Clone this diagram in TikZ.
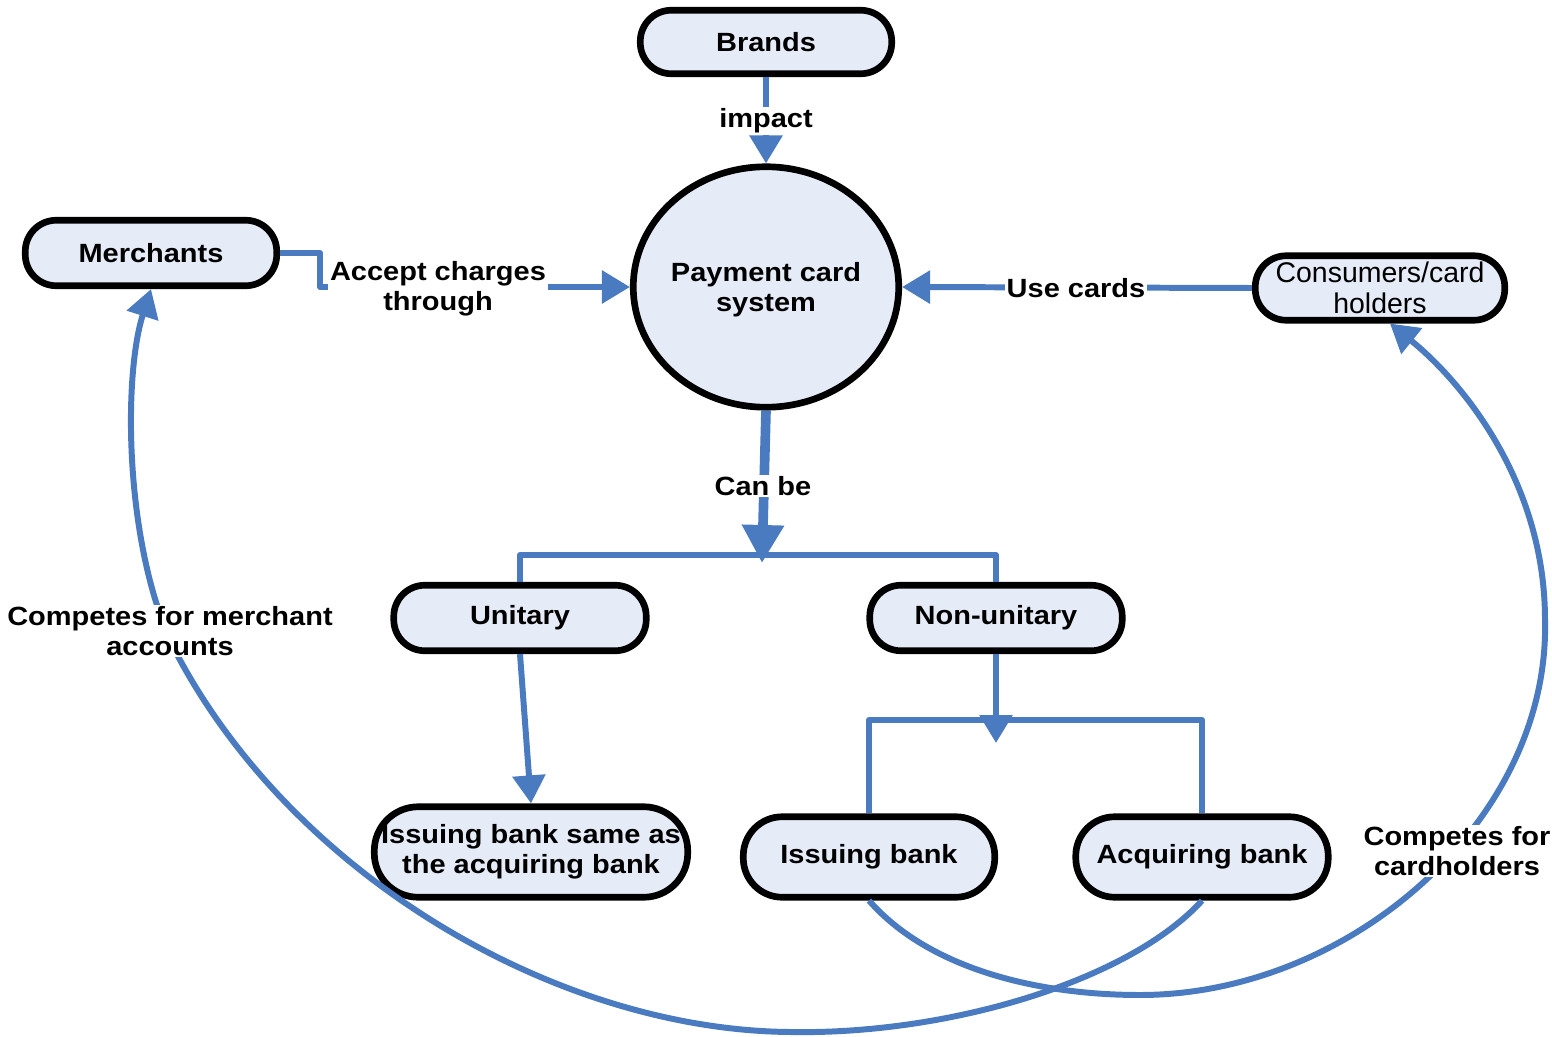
\documentclass[tikz,border=0pt]{standalone}
\usepackage{fontspec}
\setmainfont{Liberation Sans}[FakeStretch=1.1]
\newfontfamily\plainfont{Liberation Sans}
\usetikzlibrary{arrows.meta,shapes.geometric}
\definecolor{lineblue}{HTML}{4A7AC0}
\definecolor{boxfill}{HTML}{E6ECF7}
\begin{document}
\begin{tikzpicture}[x=0.02cm,y=-0.02cm,
  box/.style={draw=black,line width=3.8pt,fill=boxfill,rounded corners=0.62cm,
    align=center,font=\fontsize{15}{17}\selectfont\bfseries,inner sep=0pt},
  conn/.style={draw=lineblue,line width=3.4pt,line join=round},
  arr/.style={-{Triangle[width=0.64cm,length=0.56cm]}},
  bigarr/.style={-{Triangle[width=0.8cm,length=0.76cm]}},
  lab/.style={fill=white,inner sep=1pt,align=center,font=\fontsize{15}{17}\selectfont\bfseries}]
\useasboundingbox (0,0) rectangle (1552,1037);

% main nodes
\node[box,minimum width=5.03cm,minimum height=1.27cm] (brands) at (766,42) {Brands};
\node[box,ellipse,rounded corners=0pt,minimum width=5.31cm,minimum height=4.81cm,
  label={[align=center,font=\fontsize{15}{17}\selectfont\bfseries,yshift=-0.06cm]center:{Payment card\\system}}] (pcs) at (766,287) {};
\node[box,minimum width=5.03cm,minimum height=1.31cm] (merch) at (151,253) {Merchants};
\node[box,minimum width=4.99cm,minimum height=1.29cm,font=\plainfont\fontsize{16.2}{17.6}\selectfont] (cons) at (1380,288) {Consumers/card\\holders};
\node[box,minimum width=5.05cm,minimum height=1.31cm] (un) at (520,618) {Unitary};
\node[box,minimum width=5.05cm,minimum height=1.31cm] (nu) at (996,618) {Non-unitary};
\node[box,minimum width=6.27cm,minimum height=1.81cm,rounded corners=0.88cm] (same) at (531,852) {Issuing bank same as\\the acquiring bank};
\node[box,minimum width=5.03cm,minimum height=1.61cm,rounded corners=0.78cm] (iss) at (869,857) {Issuing bank};
\node[box,minimum width=5.05cm,minimum height=1.61cm,rounded corners=0.78cm] (acq) at (1202,857) {Acquiring bank};

% helper coordinates
\coordinate (cbtip) at (762,563);
\coordinate (bar1) at (762,555);
\coordinate (nutip) at (996,743);
\coordinate (bar2) at (996,720);

% straight connectors
\draw[conn,arr] (brands.south) -- (pcs.north);
\draw[conn,arr] (merch.east) -- ++(40,0) |- (pcs.west);
\draw[conn,arr] (cons.west) -- (pcs.east);
\draw[conn,line width=5.5pt,bigarr] (pcs.south) -- (cbtip);
\draw[conn] (un.north) -- (un.north |- bar1) -- (nu.north |- bar1) -- (nu.north);
\draw[conn,arr] (un.south) -- (same.north);
\draw[conn,arr] (nu.south) -- (nutip);
\draw[conn] (iss.north) -- (iss.north |- bar2) -- (acq.north |- bar2) -- (acq.north);

% curved connectors
\draw[conn,arr] (acq.south) .. controls (1130,980) and (950,1035) .. (790,1032)
  .. controls (560,1030) and (300,880) .. (180,660)
  .. controls (125,560) and (122,380) .. (merch.south);
\draw[conn,arr] (iss.south) .. controls (930,970) and (1040,995) .. (1140,995)
  .. controls (1350,995) and (1550,820) .. (1545,620)
  .. controls (1545,480) and (1460,380) .. ([xshift=0.2cm]cons.south);

% labels
\node[lab] (limpact) at (766,121) {impact};
\node[lab] (laccept) at (438,289) {Accept charges\\through};
\node[lab] (luse) at (1076,288) {Use cards};
\node[lab] (lcan) at (763,486) {Can be};
\node[lab] (lmerch) at (170,631) {Competes for merchant\\accounts};
\node[lab] (lcard) at (1457,851) {Competes for\\cardholders};
\end{tikzpicture}
\end{document}
